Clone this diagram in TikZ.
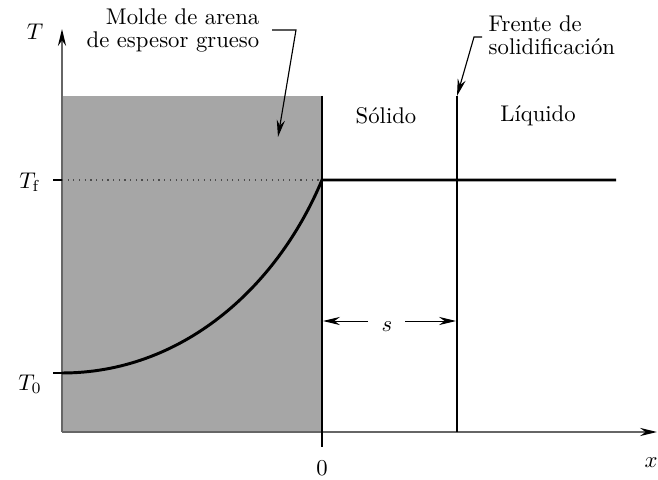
\documentclass[tikz,border=0pt]{standalone}
\usetikzlibrary{arrows.meta}
\begin{document}
\begin{tikzpicture}[x=0.4405pt,y=-0.4405pt,
  axis/.style={line width=0.7pt, draw=black!60},
  tip/.style={-{Stealth[length=7.5pt,width=3.6pt,inset=2.5pt,color=black,fill=black]}},
  thin tip/.style={-{Stealth[length=7.5pt,width=3.6pt,inset=2.5pt]}},
  lbl/.style={inner sep=1pt},
  curve/.style={line width=1.3pt, line join=miter},
  lead/.style={line width=0.5pt}]
\useasboundingbox (0,0) rectangle (658,480);
% mould region
\fill[black!35] (62,96) rectangle (322,432);
% coordinates
\coordinate (o) at (62,432);
\coordinate (ytop) at (62,29);
\coordinate (xend) at (657,432);
\coordinate (zt) at (322,96);
\coordinate (zb) at (322,447);
\coordinate (ft) at (457,96);
\coordinate (fb) at (457,432);
\coordinate (tft) at (53,180);
\coordinate (tf0) at (62,180);
\coordinate (tf1) at (322,180);
\coordinate (c0) at (53,373);
\coordinate (c1) at (62,373);
\coordinate (cend) at (616,180);
\coordinate (sl) at (323,321);
\coordinate (sl0) at (368,321);
\coordinate (sr) at (456,321);
\coordinate (sr0) at (405,321);
\coordinate (m0) at (272,30);
\coordinate (m1) at (296,30);
\coordinate (mtip) at (278,137);
\coordinate (f0) at (482,37);
\coordinate (f1) at (474,37);
% axes
\draw[axis,tip] (o) -- (ytop);
\draw[axis,tip] (o) -- (xend);
% zero line / tick
\draw[line width=0.6pt] (zt) -- (zb);
% front
\draw[line width=0.7pt] (ft) -- (fb);
% ticks
\draw[line width=0.5pt] (tft) -- (tf0);
\draw[line width=0.5pt] (c0) -- (c1);
% dotted Tf
\draw[dotted, line width=0.5pt, draw=black!70] (tf0) -- (tf1);
% temperature profile
\draw[curve] (c1) .. controls (180,373) and (276,290) .. (tf1) -- (cend);
% labels
\node (T) at (35,32) {$T$};
\node (x) at (651,463) {$x$};
\node (zero) at (322,468) {$0$};
\node (Tf) at (30,182) {$T_{\mathrm{f}}$};
\node (T0) at (30,384) {$T_0$};
\node (sol) at (386,116) {Sólido};
\node (liq) at (538,116) {Líquido};
\node (s) at (387,327) {$s$};
\draw[thin tip] (sl0) -- (sl);
\draw[thin tip] (sr0) -- (sr);
\node[lbl, align=right, anchor=north east] (molde) at (262,6) {Molde de arena\\[-2pt]de espesor grueso};
\node[lbl, align=left, anchor=north west] (frente) at (486,13) {Frente de\\[-2pt]solidificación};
\draw[lead,thin tip] (m0) -- (m1) -- (mtip);
\draw[lead,thin tip] (f0) -- (f1) -- (ft);
\end{tikzpicture}
\end{document}
